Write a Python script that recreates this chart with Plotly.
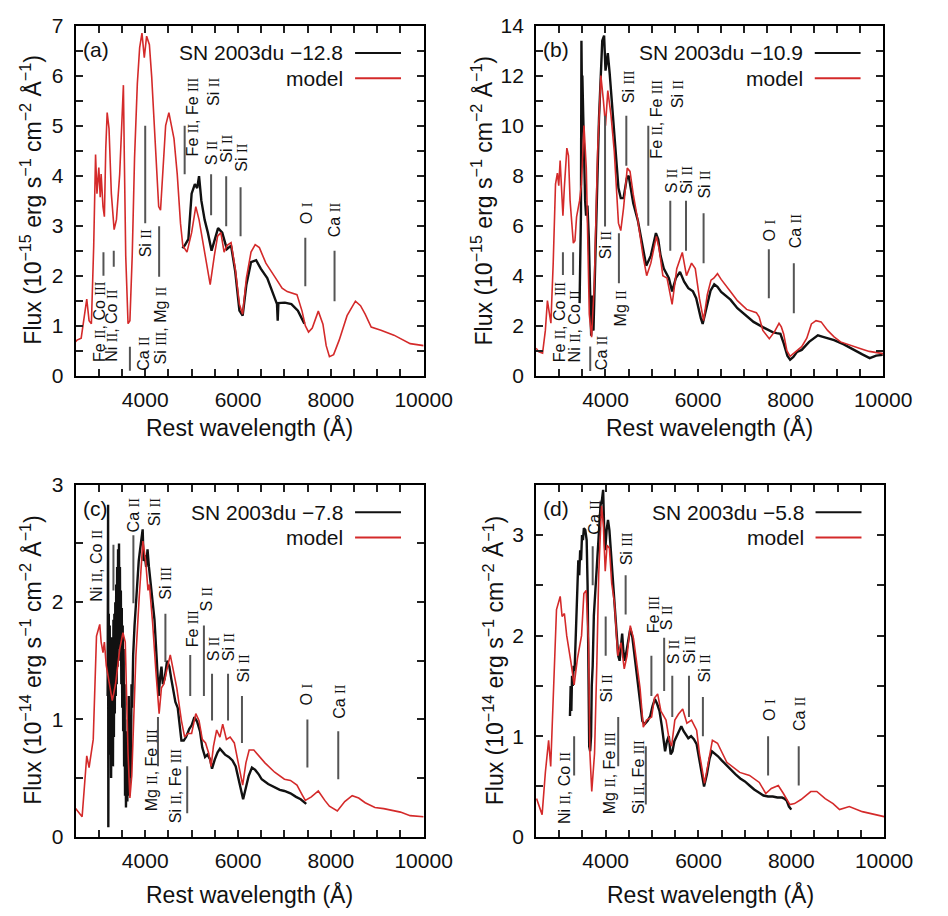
import re
import plotly.graph_objects as go

# ---------------- data ----------------
# Panel (a)  SN 2003du -12.8  (flux in 1e-15)
wl_a_mod = [2500, 2530, 2620, 2690, 2740, 2790, 2840, 2890, 2930, 2960,
            3000, 3030, 3050, 3090, 3120, 3150, 3180, 3220, 3270, 3330,
            3380, 3450, 3500, 3530, 3550, 3580, 3630, 3670, 3720, 3770,
            3830, 3880, 3930, 3980, 4030, 4090, 4140, 4190, 4240, 4290,
            4330, 4380, 4440, 4510, 4550, 4620, 4690, 4760, 4810, 4900,
            5000, 5090, 5160, 5250, 5350, 5400, 5490, 5560, 5630, 5700,
            5760, 5850, 5940, 6030, 6100, 6180, 6280, 6370, 6460, 6600,
            6790, 6950, 7060, 7270, 7380, 7450, 7520, 7600, 7730, 7830,
            7900, 7970, 8060, 8180, 8350, 8530, 8640, 8740, 8870, 9080,
            9360, 9710, 10000]
fx_a_mod = [0.68, 0.71, 0.75, 1.17, 1.53, 1.1, 1.04, 2.6, 4.42, 3.64,
            4.16, 3.57, 4.03, 3.38, 3.18, 4.55, 5.26, 4.94, 3.64, 2.92,
            3.12, 4.03, 5.0, 5.81, 4.35, 2.4, 1.04, 1.1, 2.4, 4.35,
            5.84, 6.56, 6.85, 6.36, 6.79, 6.62, 5.97, 5.13, 4.22, 3.38,
            3.31, 4.16, 5.0, 5.26, 5.06, 4.74, 4.03, 3.05, 2.6, 2.47,
            2.86, 3.38, 3.12, 2.6, 2.08, 1.82, 2.4, 2.79, 2.86, 2.47,
            2.6, 2.66, 2.14, 1.43, 1.23, 1.95, 2.47, 2.62, 2.56, 2.25,
            1.98, 1.75, 1.68, 1.62, 1.29, 1.0, 0.87, 0.95, 1.29, 1.03,
            0.6, 0.38, 0.42, 0.71, 1.2, 1.49, 1.4, 1.23, 0.97, 0.91,
            0.81, 0.64, 0.6]
wl_a_obs = [4800, 4850, 4930, 5000, 5070, 5120, 5160, 5210, 5280, 5350,
            5430, 5500, 5570, 5660, 5760, 5850, 5940, 6030, 6100, 6180,
            6280, 6390, 6490, 6630, 6770, 6840, 6855, 6870, 7010, 7150,
            7290, 7430]
fx_a_obs = [2.55, 2.6, 2.73, 3.64, 3.83, 3.75, 3.99, 3.5, 3.12, 2.86,
            2.5, 2.73, 2.95, 2.86, 2.53, 2.6, 2.08, 1.3, 1.2, 1.82,
            2.27, 2.31, 2.14, 1.95, 1.62, 1.43, 1.1, 1.45, 1.46, 1.43,
            1.3, 1.04]

# Panel (b)  SN 2003du -10.9  (flux in 1e-15)
wl_b_mod = [2500, 2560, 2640, 2700, 2745, 2790, 2820, 2870, 2920, 2960,
            2990, 3020, 3045, 3080, 3110, 3165, 3200, 3235, 3305, 3340,
            3375, 3440, 3480, 3535, 3585, 3620, 3650, 3700, 3760, 3830,
            3900, 3955, 4000, 4050, 4120, 4190, 4280, 4330, 4390, 4470,
            4530, 4600, 4700, 4810, 4890, 4980, 5040, 5100, 5160, 5240,
            5330, 5400, 5440, 5540, 5600, 5660, 5750, 5860, 5940, 6030,
            6120, 6200, 6280, 6340, 6420, 6500, 6700, 6850, 7050, 7260,
            7320, 7400, 7540, 7650, 7750, 7800, 7850, 7920, 7990, 8100,
            8240, 8350, 8450, 8550, 8660, 8800, 8940, 9080, 9300, 9500,
            9700, 9920, 10000]
fx_b_mod = [1.1, 0.95, 0.9, 1.8, 3.0, 2.5, 2.1, 4.5, 7.66, 8.1,
            7.6, 8.6, 7.5, 6.4, 7.5, 9.1, 8.8, 7.0, 5.3, 5.4,
            6.35, 7.0, 7.66, 10.0, 8.3, 5.0, 2.46, 1.54, 3.76, 8.96,
            12.0, 11.0, 10.0, 11.4, 10.4, 8.96, 6.1, 5.8, 6.7, 8.3,
            8.17, 7.25, 6.2, 4.8, 4.0, 4.5, 5.0, 5.57, 5.06, 4.0,
            3.9, 3.3, 2.85, 4.28, 4.6, 4.93, 4.0, 4.5, 4.28, 3.1,
            2.2, 3.24, 3.82, 3.9, 4.08, 3.85, 3.37, 3.0, 2.65, 2.52,
            2.35, 1.81, 1.48, 1.75, 2.09, 1.95, 1.67, 1.0, 0.77, 0.95,
            1.16, 1.5, 2.07, 2.2, 2.15, 1.81, 1.55, 1.35, 1.2, 1.09,
            0.97, 0.9, 0.88]
wl_b_obs = [3440, 3470, 3480, 3490, 3500, 3520, 3540, 3560, 3580, 3610,
            3640, 3665, 3690, 3705, 3720, 3740, 3760, 3790, 3820, 3860,
            3900, 3930, 3970, 4000, 4030, 4050, 4090, 4140, 4210, 4280,
            4330, 4390, 4460, 4500, 4530, 4600, 4700, 4810, 4880, 4980,
            5050, 5090, 5140, 5190, 5260, 5370, 5440, 5520, 5610, 5700,
            5790, 5890, 5960, 6000, 6060, 6100, 6170, 6270, 6350, 6420,
            6500, 6600, 6700, 6850, 7050, 7200, 7400, 7610, 7700, 7780,
            7850, 7930, 7990, 8060, 8140, 8240, 8400, 8590, 8700, 8940,
            9150, 9360, 9550, 9710, 9850, 9990]
fx_b_obs = [2.9, 6.5, 13.4, 11.5, 12.0, 10.3, 8.5, 7.0, 6.4, 6.8,
            5.5, 3.0, 1.6, 2.5, 3.2, 1.8, 3.0, 5.0, 7.5, 10.3,
            12.5, 13.4, 13.6, 12.2, 12.6, 12.9, 12.1, 11.0, 9.2, 7.5,
            7.1, 7.1, 7.9, 8.0, 7.65, 6.9, 6.2, 5.06, 4.4, 4.8,
            5.4, 5.7, 5.45, 4.8, 4.28, 3.9, 3.37, 3.9, 4.15, 3.76,
            3.5, 3.37, 3.1, 2.72, 2.3, 2.07, 2.59, 3.4, 3.65, 3.55,
            3.35, 3.2, 3.04, 2.7, 2.39, 2.15, 1.94, 1.74, 1.7, 1.67,
            1.3, 0.8, 0.64, 0.75, 0.95, 1.03, 1.35, 1.61, 1.55, 1.42,
            1.25, 1.03, 0.85, 0.7, 0.8, 0.83]

# Panel (c)  SN 2003du -7.8  (flux in 1e-14)
wl_c_mod = [2500, 2640, 2740, 2790, 2880, 2950, 3020, 3050, 3090, 3120,
            3160, 3220, 3290, 3360, 3450, 3520, 3570, 3630, 3670, 3710,
            3800, 3870, 3950, 4010, 4060, 4090, 4160, 4230, 4300, 4350,
            4400, 4470, 4540, 4610, 4680, 4780, 4850, 4920, 5000, 5090,
            5160, 5230, 5300, 5370, 5420, 5470, 5540, 5610, 5670, 5750,
            5830, 5920, 5990, 6100, 6170, 6240, 6340, 6440, 6580, 6790,
            7000, 7130, 7270, 7380, 7450, 7580, 7730, 7870, 7970, 8140,
            8300, 8460, 8600, 8740, 8950, 9140, 9290, 9500, 9710, 9950,
            10000]
fx_c_mod = [0.24, 0.17, 0.69, 0.59, 0.83, 1.71, 1.81, 1.66, 1.57, 1.66,
            1.46, 1.32, 1.16, 1.30, 1.6, 1.74, 1.66, 0.71, 0.33, 0.52,
            1.55, 2.04, 2.52, 2.35, 2.1, 2.15, 1.82, 1.41, 1.05, 1.27,
            1.3, 1.43, 1.55, 1.41, 1.27, 0.99, 0.85, 0.88, 0.88, 1.05,
            0.99, 0.83, 0.80, 0.71, 0.60, 0.77, 0.91, 0.85, 0.96, 0.83,
            0.85, 0.80, 0.66, 0.44, 0.63, 0.74, 0.74, 0.69, 0.63, 0.55,
            0.49, 0.48, 0.44, 0.36, 0.31, 0.34, 0.39, 0.31, 0.26, 0.22,
            0.3, 0.35, 0.33, 0.29, 0.25, 0.24, 0.23, 0.21, 0.18, 0.17,
            0.17]
wl_c_obs = [3190, 3200, 3205, 3215, 3225, 3235, 3245, 3255, 3265, 3275,
            3285, 3295, 3305, 3315, 3325, 3335, 3345, 3355, 3365, 3375,
            3385, 3395, 3405, 3415, 3425, 3435, 3445, 3455, 3465, 3475,
            3485, 3495, 3505, 3515, 3525, 3535, 3545, 3555, 3565, 3575,
            3585, 3600, 3615, 3625, 3635, 3645, 3660, 3675, 3690, 3705,
            3720, 3740, 3770, 3800, 3830, 3860, 3890, 3920, 3945, 3965,
            3990, 4020, 4050, 4080, 4120, 4160, 4200, 4250, 4290, 4320,
            4350, 4380, 4420, 4470, 4520, 4560, 4600, 4650, 4700, 4750,
            4780, 4830, 4880, 4950, 5000, 5060, 5120, 5180, 5230, 5290,
            5340, 5400, 5440, 5500, 5560, 5610, 5660, 5720, 5800, 5880,
            5950, 6000, 6060, 6110, 6170, 6230, 6300, 6370, 6450, 6510,
            6650, 6790, 6900, 7000, 7130, 7250, 7350, 7470]
fx_c_obs = [1.2, 2.83, 0.08, 1.9, 0.7, 1.8, 0.9, 1.7, 0.5, 1.65,
            0.8, 1.7, 0.6, 1.85, 0.85, 1.9, 1.05, 2.0, 1.2, 2.15,
            1.3, 2.3, 1.45, 2.45, 1.6, 2.5, 1.65, 2.3, 1.5, 2.1,
            1.3, 1.95, 1.1, 1.8, 0.9, 1.6, 0.6, 1.3, 0.35, 0.9,
            0.25, 0.6, 0.3, 1.0, 0.45, 1.2, 0.35, 0.9, 0.5, 1.3,
            1.1, 1.55, 1.8, 2.0, 2.2, 2.35, 2.45, 2.55, 2.62, 2.35,
            2.4, 2.3, 2.45, 2.3, 2.15, 2.0, 1.85, 1.5, 1.2, 1.35,
            1.45, 1.3, 1.35, 1.5, 1.45, 1.35, 1.25, 1.15, 1.1, 0.95,
            0.82, 0.82, 0.85, 0.92, 0.95, 1.02, 0.98, 0.9, 0.76, 0.68,
            0.7, 0.66, 0.58, 0.66, 0.72, 0.75, 0.73, 0.7, 0.68, 0.65,
            0.6, 0.52, 0.4, 0.32, 0.42, 0.52, 0.59, 0.57, 0.53, 0.49,
            0.45, 0.42, 0.4, 0.39, 0.37, 0.34, 0.32, 0.28]

# Panel (d)  SN 2003du -5.8  (flux in 1e-14)
wl_d_mod = [2510, 2630, 2700, 2770, 2815, 2880, 2940, 3020, 3060, 3110,
            3160, 3250, 3320, 3390, 3480, 3530, 3580, 3630, 3660, 3700,
            3760, 3810, 3850, 3910, 3950, 3990, 4030, 4080, 4130, 4190,
            4260, 4330, 4400, 4460, 4530, 4600, 4670, 4740, 4810, 4880,
            4990, 5050, 5120, 5190, 5300, 5370, 5420, 5490, 5570, 5660,
            5750, 5850, 5960, 6020, 6130, 6200, 6300, 6410, 6610, 6890,
            7100, 7310, 7450, 7570, 7720, 7830, 7970, 8070, 8210, 8420,
            8550, 8730, 8900, 9040, 9250, 9530, 9800, 10000]
fx_d_mod = [0.38, 0.22, 0.64, 0.96, 0.70, 1.48, 2.26, 2.39, 2.19, 2.22,
            2.0, 1.74, 1.51, 1.77, 2.0, 2.42, 2.45, 1.93, 0.83, 0.45,
            0.83, 1.74, 2.61, 3.29, 3.10, 2.64, 2.90, 2.87, 2.52, 2.32,
            1.80, 1.93, 1.67, 1.80, 2.10, 1.97, 1.71, 1.48, 1.09, 1.16,
            1.19, 1.38, 1.42, 1.25, 1.16, 0.96, 0.90, 1.16, 1.22, 1.27,
            1.13, 1.16, 1.06, 0.83, 0.53, 0.70, 0.96, 0.93, 0.74, 0.64,
            0.61, 0.54, 0.43, 0.48, 0.51, 0.43, 0.32, 0.33, 0.37, 0.45,
            0.45, 0.38, 0.33, 0.27, 0.30, 0.25, 0.22, 0.20]
wl_d_obs = [3230, 3245, 3260, 3275, 3290, 3310, 3330, 3350, 3370, 3390,
            3410, 3430, 3450, 3470, 3490, 3510, 3530, 3560, 3590, 3610,
            3630, 3645, 3665, 3685, 3700, 3720, 3745, 3770, 3800, 3830,
            3860, 3890, 3920, 3945, 3965, 3990, 4020, 4050, 4080, 4110,
            4140, 4170, 4200, 4240, 4270, 4300, 4330, 4355, 4380, 4410,
            4450, 4490, 4530, 4570, 4610, 4660, 4700, 4740, 4790, 4840,
            4900, 4960, 5010, 5060, 5110, 5160, 5210, 5250, 5280, 5320,
            5360, 5400, 5440, 5480, 5530, 5580, 5630, 5680, 5730, 5780,
            5840, 5900, 5960, 6010, 6060, 6120, 6180, 6240, 6290, 6350,
            6420, 6500, 6600, 6700, 6800, 6900, 7000, 7100, 7200, 7300,
            7400, 7500, 7600, 7700, 7800, 7850, 7900, 7950, 8000]
fx_d_obs = [1.2, 1.5, 1.25, 1.6, 1.5, 1.7, 1.65, 1.9, 2.1, 2.4,
            2.75, 2.6, 2.85, 2.75, 3.0, 2.95, 3.07, 3.05, 2.95, 2.5,
            1.6, 0.9, 0.85, 1.0, 1.5, 1.7, 2.2, 2.4, 2.6, 2.9,
            3.15, 3.3, 3.35, 3.45, 3.1, 2.85, 3.05, 3.15, 3.05, 2.85,
            2.65, 2.45, 2.25, 2.0, 1.8, 1.75, 1.9, 2.02, 1.85, 1.75,
            1.85, 1.95, 2.07, 2.0, 1.85, 1.7, 1.55, 1.35, 1.15, 1.12,
            1.15, 1.2, 1.3, 1.37, 1.32, 1.25, 1.1, 0.95, 0.85, 0.95,
            1.0, 0.82, 0.85, 0.95, 1.0, 1.05, 1.1, 1.05, 1.02, 0.98,
            1.0, 0.97, 0.92, 0.8, 0.65, 0.5, 0.62, 0.78, 0.85, 0.83,
            0.8, 0.76, 0.71, 0.67, 0.62, 0.58, 0.55, 0.51, 0.47, 0.44,
            0.41, 0.4, 0.4, 0.39, 0.39, 0.38, 0.36, 0.3, 0.27]

epochs = ["\u221212.8", "\u221210.9", "\u22127.8", "\u22125.8"]
panel_tags = ["(a)", "(b)", "(c)", "(d)"]
y_ranges = [[0, 7], [0, 14], [0, 3], [0, 3.5]]
y_dticks = [1, 2, 1, 1]
y_minor = [0.5, 1, 0.5, 0.5]
y_exponents = ["\u221215", "\u221215", "\u221214", "\u221214"]

# line identifications: (label, line wavelength, line y0, line y1, label x, label bottom y)
ids_a = [("Fe II, Co III", 3100, 2.0, 2.47, 3010, 0.23),
         ("Ni II, Co II", 3322, 2.18, 2.5, 3275, 0.23),
         ("Ca II", 3670, 0.1, 0.58, 3945, 0.06),
         ("Si II", 4000, 3.05, 5.0, 4010, 2.32),
         ("Si III, Mg II", 4300, 1.98, 2.99, 4325, 0.19),
         ("Fe II, Fe III<br>Si II", 4850, 4.03, 5.0, 5240, 4.35),
         ("S II", 5420, 3.21, 4.03, 5420, 4.16),
         ("Si II", 5745, 2.99, 3.99, 5765, 4.22),
         ("Si II", 6055, 2.79, 3.77, 6075, 4.03),
         ("O I", 7450, 1.79, 2.76, 7465, 2.99),
         ("Ca II", 8080, 1.49, 2.5, 8080, 2.73)]
ids_b = [("Fe II, Co III", 3080, 4.03, 4.94, 3005, 0.45),
         ("Ni II, Co II", 3300, 4.03, 4.94, 3320, 0.45),
         ("Ca II", 3670, 0.19, 1.17, 3930, 0.13),
         ("Si II", 3990, 5.97, 10.4, 4000, 4.6),
         ("Mg II", 4290, 3.7, 5.7, 4330, 1.88),
         ("Si III", 4450, 8.4, 10.4, 4487, 10.8),
         ("Fe II, Fe III<br>Si II", 4925, 6.0, 10.0, 5340, 8.6),
         ("S II", 5400, 5.0, 7.0, 5420, 7.2),
         ("Si II", 5740, 5.0, 7.0, 5750, 7.2),
         ("Si II", 6120, 4.5, 6.5, 6150, 7.0),
         ("O I", 7530, 3.1, 5.06, 7540, 5.3),
         ("Ca II", 8070, 2.5, 4.5, 8100, 5.0)]
ids_c = [("Ni II, Co II", 3315, 2.1, 2.49, 2950, 1.99),
         ("Ca II<br>Si II", 3745, 1.99, 2.57, 3970, 2.58),
         ("Si III", 4435, 1.49, 1.9, 4450, 2.0),
         ("Mg II, Fe III", 4275, 0.6, 1.02, 4125, 0.2),
         ("Si II, Fe III", 4905, 0.2, 0.6, 4645, 0.1),
         ("Fe III", 4970, 1.2, 1.55, 5025, 1.6),
         ("S II", 5265, 1.2, 1.8, 5315, 1.9),
         ("S II", 5440, 0.99, 1.39, 5475, 1.48),
         ("Si II", 5785, 0.99, 1.39, 5785, 1.48),
         ("Si II", 6085, 0.8, 1.2, 6110, 1.3),
         ("O I", 7495, 0.59, 1.0, 7480, 1.1),
         ("Ca II", 8160, 0.49, 0.9, 8170, 0.99)]
ids_d = [("Ni II, Co II", 3320, 0.61, 1.0, 3110, 0.11),
         ("Ca II", 3720, 2.5, 2.89, 3770, 2.98),
         ("Si II", 4000, 1.8, 2.19, 4015, 1.32),
         ("Mg II, Fe III", 4270, 0.7, 1.19, 4085, 0.2),
         ("Si II, Fe III", 4865, 0.32, 0.9, 4710, 0.2),
         ("Si III", 4430, 2.21, 2.6, 4450, 2.68),
         ("Fe III", 4985, 1.4, 1.8, 5020, 2.0),
         ("S II", 5260, 1.45, 1.98, 5300, 2.03),
         ("S II", 5435, 1.19, 1.6, 5450, 1.7),
         ("Si II", 5795, 1.19, 1.6, 5815, 1.7),
         ("Si II", 6095, 1.0, 1.39, 6130, 1.51),
         ("O I", 7500, 0.61, 1.0, 7515, 1.13),
         ("Ca II", 8160, 0.51, 0.9, 8175, 1.03)]

# ---------------- styling / layout ----------------
W, H = 948, 916
RED = "#d42a2a"
BLK = "#111111"
GRAY = "#555555"
FONT = "Liberation Sans"

# plot-area pixel boxes (left, top, right, bottom)
boxes = [(78, 14, 437, 373), (553, 14, 911, 373), (78, 485, 437, 846), (553, 485, 912, 846)]
ytitle_px = [32, 497, 32, 509]
xtitle_py = [424, 424, 903, 903]

panels = [
    (wl_a_mod, fx_a_mod, wl_a_obs, fx_a_obs, ids_a),
    (wl_b_mod, fx_b_mod, wl_b_obs, fx_b_obs, ids_b),
    (wl_c_mod, fx_c_mod, wl_c_obs, fx_c_obs, ids_c),
    (wl_d_mod, fx_d_mod, wl_d_obs, fx_d_obs, ids_d),
]


def roman(label):
    return re.sub(r"\b(I{1,3})\b",
                  lambda m: '<span style="font-family:\'Liberation Serif\';font-size:14px">'
                  + m.group(1) + "</span>", label)


fig = go.Figure()
shapes, annos = [], []
layout = {}

for i, (wm, fm, wo, fo, ids) in enumerate(panels):
    n = "" if i == 0 else str(i + 1)
    xa, ya = "x" + n, "y" + n
    l, t, r, b = boxes[i]

    fig.add_trace(go.Scatter(x=wo, y=fo, mode="lines", xaxis=xa, yaxis=ya,
                             line=dict(color=BLK, width=2.4), showlegend=False))
    fig.add_trace(go.Scatter(x=wm, y=fm, mode="lines", xaxis=xa, yaxis=ya,
                             line=dict(color=RED, width=1.6), showlegend=False))

    common = dict(showline=True, linecolor="black", linewidth=2, mirror="allticks",
                  ticks="inside", ticklen=7, tickwidth=1.5, tickcolor="#222",
                  showgrid=False, zeroline=False,
                  tickfont=dict(family=FONT, size=21, color="#111"))
    layout["xaxis" + n] = dict(common, domain=[l / W, r / W], range=[2500, 10000],
                               anchor=ya, tick0=0, dtick=2000, tickformat="d",
                               minor=dict(dtick=500, ticks="inside", ticklen=7,
                                          tickwidth=1.5, tickcolor="#222"),
                               ticklabelstandoff=4)
    layout["yaxis" + n] = dict(common, domain=[1 - b / H, 1 - t / H], range=y_ranges[i],
                               anchor=xa, tick0=0, dtick=y_dticks[i],
                               minor=dict(dtick=y_minor[i], ticks="inside", ticklen=7,
                                          tickwidth=1.5, tickcolor="#222"),
                               ticklabelstandoff=6)

    # legend (custom: text then line sample)
    for k, (txt, col) in enumerate([("SN 2003du " + epochs[i], BLK), ("model", RED)]):
        yy = 0.922 - k * 0.072
        annos.append(dict(xref=xa + " domain", yref=ya + " domain", x=0.775, y=yy,
                          xanchor="right", yanchor="middle", text=txt, showarrow=False,
                          font=dict(family=FONT, size=21, color="#111")))
        shapes.append(dict(type="line", xref=xa + " domain", yref=ya + " domain",
                           x0=0.803, x1=0.935, y0=yy, y1=yy,
                           line=dict(color=col, width=2)))
    annos.append(dict(xref=xa + " domain", yref=ya + " domain", x=0.015, y=0.933,
                      xanchor="left", yanchor="middle", text=panel_tags[i], showarrow=False,
                      font=dict(family=FONT, size=21, color="#111")))

    # line identifications
    for (lab, lam, y0, y1, tx, ty) in ids:
        shapes.append(dict(type="line", xref=xa, yref=ya, x0=lam, x1=lam, y0=y0, y1=y1,
                           line=dict(color=GRAY, width=2)))
        annos.append(dict(xref=xa, yref=ya, x=tx, y=ty, xanchor="center", yanchor="bottom",
                          text=roman(lab), textangle=-90, showarrow=False, align="right",
                          font=dict(family=FONT, size=16, color="#111")))

    # axis titles
    annos.append(dict(xref="paper", yref="paper", x=(l + r) / 2 / W, y=1 - (xtitle_py[i] + 2) / H,
                      xanchor="center", yanchor="middle", showarrow=False,
                      text="Rest wavelength (\u00c5)",
                      font=dict(family=FONT, size=23, color="#111")))
    annos.append(dict(xref="paper", yref="paper", x=ytitle_px[i] / W, y=1 - (t + b) / 2 / H,
                      xanchor="center", yanchor="middle", showarrow=False, textangle=-90,
                      text="Flux (10<sup>" + y_exponents[i] + "</sup> erg s<sup>\u22121</sup> cm<sup>\u22122</sup> \u00c5<sup>\u22121</sup>)",
                      font=dict(family=FONT, size=23, color="#111")))

fig.update_layout(**layout)
fig.update_layout(width=W, height=H, margin=dict(l=0, r=0, t=0, b=0),
                  paper_bgcolor="white", plot_bgcolor="white",
                  shapes=shapes, annotations=annos, showlegend=False)

fig.write_html("out.html")
